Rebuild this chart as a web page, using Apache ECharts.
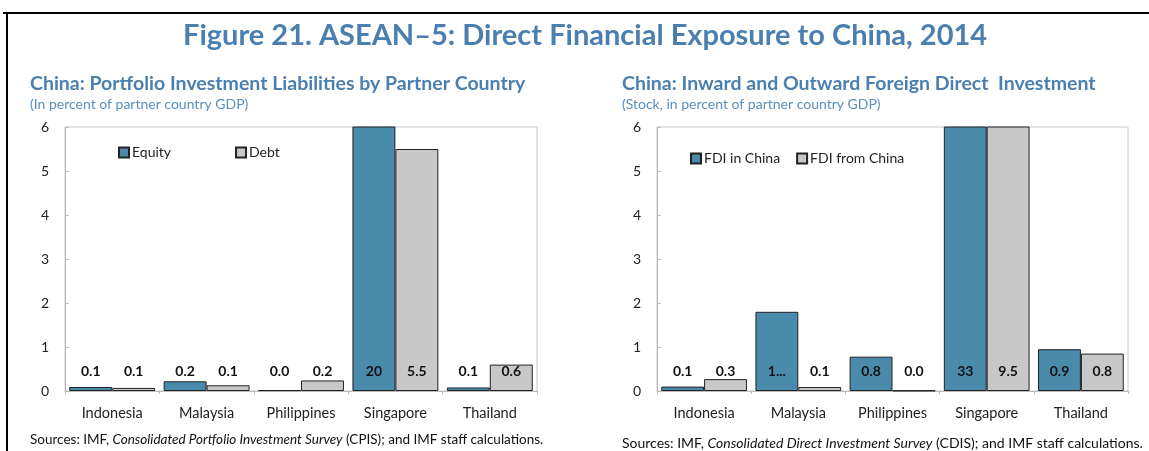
<!DOCTYPE html>
<html lang="en">
<head>
    <title>ASEAN-5 Direct Financial Exposure to China</title>
    <script src="https://cdn.jsdelivr.net/npm/echarts@6/dist/echarts.min.js"></script>
    <style>
        html, body { margin: 0; padding: 0; background: #fff; }
        #chart { width: 1149px; height: 451px; }
    </style>
</head>
<body>
<div id="chart"></div>
<script>
    // categories shared by both panels
    var countries = ['Indonesia', 'Malaysia', 'Philippines', 'Singapore', 'Thailand'];
    var yTicks = [0, 1, 2, 3, 4, 5, 6];

    // left panel: portfolio investment liabilities
    var equity = [0.09, 0.22, 0.02, 20, 0.08];
    var debt = [0.07, 0.13, 0.24, 5.5, 0.6];
    var equityLabels = ['0.1', '0.2', '0.0', '20', '0.1'];
    var debtLabels = ['0.1', '0.1', '0.2', '5.5', '0.6'];

    // right panel: FDI stock
    var fdiIn = [0.1, 1.8, 0.78, 33, 0.95];
    var fdiFrom = [0.27, 0.09, 0.01, 9.5, 0.85];
    var fdiInLabels = ['0.1', '1...', '0.8', '33', '0.9'];
    var fdiFromLabels = ['0.3', '0.1', '0.0', '9.5', '0.8'];

    var BLUE = '#4a8aab';
    var GREY = '#c8c8c8';
    var TITLE = '#4a7fb0';
    var FONT = 'Lato';

    var chart = echarts.init(document.getElementById('chart'), null, { renderer: 'canvas' });

    function barSeries(name, data, labels, color, idx) {
        return {
            name: name,
            type: 'bar',
            xAxisIndex: idx,
            yAxisIndex: idx,
            data: data,
            barGap: '0%',
            barCategoryGap: '9%',
            clip: true,
            itemStyle: { color: color, borderColor: '#222', borderWidth: 1 },
            label: {
                show: true,
                position: 'insideBottom',
                distance: 9,
                fontFamily: FONT,
                fontWeight: 'bold',
                fontSize: 14,
                color: '#111',
                formatter: function (p) { return labels[p.dataIndex]; }
            },
            emphasis: { disabled: true },
            animation: false
        };
    }

    function yAxis(idx) {
        return {
            type: 'value',
            gridIndex: idx,
            min: yTicks[0],
            max: yTicks[yTicks.length - 1],
            interval: 1,
            axisLine: { show: true, lineStyle: { color: '#bdbdbd' } },
            axisTick: { show: true, inside: true, length: 4, lineStyle: { color: '#bdbdbd' } },
            splitLine: { show: false },
            axisLabel: { fontFamily: FONT, fontSize: 14, color: '#222', margin: 16 }
        };
    }

    function xAxis(idx) {
        return {
            type: 'category',
            gridIndex: idx,
            data: countries,
            axisLine: { show: true, lineStyle: { color: '#bdbdbd' } },
            axisTick: { show: true, length: 3, lineStyle: { color: '#bdbdbd' } },
            axisLabel: { fontFamily: FONT, fontSize: 14.5, color: '#222', margin: 11 }
        };
    }

    function legend(names, left, top, gap) {
        return {
            data: names,
            left: left,
            top: top,
            itemWidth: 10,
            itemHeight: 10,
            itemGap: gap,
            icon: 'rect',
            selectedMode: false,
            textStyle: { fontFamily: FONT, fontSize: 14, color: '#222', padding: [0, 0, 0, -2] }
        };
    }

    var option = {
        backgroundColor: '#fff',
        textStyle: { fontFamily: FONT },
        title: [
            {
                text: 'Figure 21. ASEAN\u20135: Direct Financial Exposure to China, 2014',
                left: 178, top: 8,
                textStyle: { fontFamily: FONT, fontSize: 29, fontWeight: 'bold', color: TITLE }
            },
            {
                text: 'China: Portfolio Investment Liabilities by Partner Country',
                left: 25, top: 64,
                textStyle: { fontFamily: FONT, fontSize: 19.5, fontWeight: 'bold', color: TITLE }
            },
            {
                text: '(In percent of partner country GDP)',
                left: 25, top: 89,
                textStyle: { fontFamily: FONT, fontSize: 14, fontWeight: 'normal', color: '#5a8fc0' }
            },
            {
                text: 'China: Inward and Outward Foreign Direct  Investment',
                left: 617, top: 64,
                textStyle: { fontFamily: FONT, fontSize: 19.5, fontWeight: 'bold', color: TITLE }
            },
            {
                text: '(Stock, in percent of partner country GDP)',
                left: 617, top: 89,
                textStyle: { fontFamily: FONT, fontSize: 14, fontWeight: 'normal', color: '#5a8fc0' }
            }
        ],
        legend: [
            legend(['Equity', 'Debt'], 113, 137, 64),
            legend(['FDI in China', 'FDI from China'], 685, 143, 16)
        ],
        grid: [
            { left: 65, top: 127, width: 472, height: 264, show: true, borderColor: '#c8c8c8', borderWidth: 1 },
            { left: 657, top: 127, width: 471, height: 264, show: true, borderColor: '#c8c8c8', borderWidth: 1 }
        ],
        xAxis: [xAxis(0), xAxis(1)],
        yAxis: [yAxis(0), yAxis(1)],
        series: [
            barSeries('Equity', equity, equityLabels, BLUE, 0),
            barSeries('Debt', debt, debtLabels, GREY, 0),
            barSeries('FDI in China', fdiIn, fdiInLabels, BLUE, 1),
            barSeries('FDI from China', fdiFrom, fdiFromLabels, GREY, 1)
        ],
        graphic: [
            // frame lines
            { type: 'rect', shape: { x: 3, y: 12, width: 1146, height: 2 }, style: { fill: '#000' }, silent: true },
            { type: 'rect', shape: { x: 6, y: 12, width: 2, height: 439 }, style: { fill: '#000' }, silent: true },
            {
                type: 'text', left: 30, top: 429, silent: true,
                style: {
                    text: 'Sources: IMF, {i|Consolidated Portfolio Investment Survey} (CPIS); and IMF staff calculations.',
                    fontFamily: FONT, fontSize: 13.5, fill: '#111',
                    rich: { i: { fontStyle: 'italic', fontFamily: FONT, fontSize: 13.5, fill: '#111' } }
                }
            },
            {
                type: 'text', left: 622, top: 433, silent: true,
                style: {
                    text: 'Sources: IMF, {i|Consolidated Direct Investment Survey} (CDIS); and IMF staff calculations.',
                    fontFamily: FONT, fontSize: 14, fill: '#111',
                    rich: { i: { fontStyle: 'italic', fontFamily: FONT, fontSize: 14, fill: '#111' } }
                }
            }
        ]
    };

    chart.setOption(option);
</script>
</body>
</html>
